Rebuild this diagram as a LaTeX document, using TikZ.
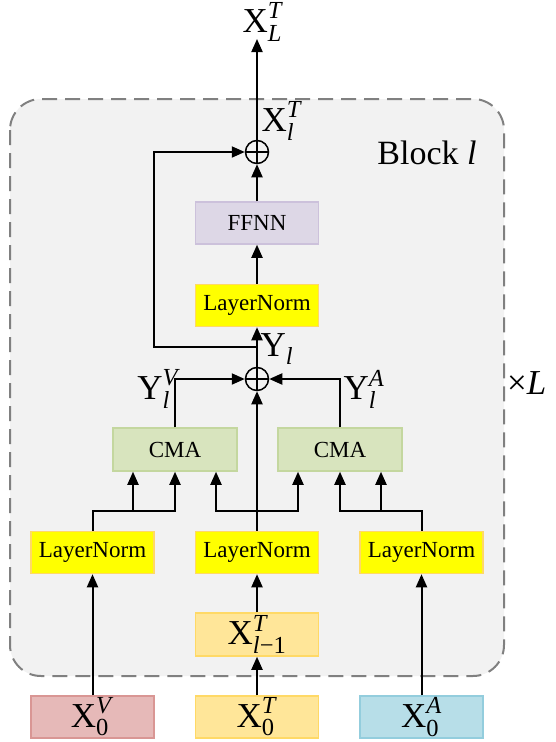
\documentclass[tikz,border=0pt]{standalone}
\usepackage{fix-cm}
\usepackage{amsmath}
\usepackage{fontspec}
\setmainfont{Liberation Serif}
\usetikzlibrary{arrows.meta}
\definecolor{blockfill}{HTML}{F2F2F2}
\definecolor{blockedge}{HTML}{808080}
\definecolor{lnfill}{HTML}{FFFF00}
\definecolor{lnedge}{HTML}{FFD966}
\definecolor{cmafill}{HTML}{D8E4BE}
\definecolor{cmaedge}{HTML}{C4D79F}
\definecolor{ffnfill}{HTML}{DDD7E6}
\definecolor{ffnedge}{HTML}{CCC1DB}
\definecolor{vidfill}{HTML}{E6B9B8}
\definecolor{videdge}{HTML}{D99694}
\definecolor{txtfill}{HTML}{FFE699}
\definecolor{txtedge}{HTML}{FFD966}
\definecolor{audfill}{HTML}{B7DEE8}
\definecolor{audedge}{HTML}{93CDDD}
\newcommand{\tsym}[3]{$\text{#1}^{\text{#2}}_{\text{#3}}$}
\tikzset{
  box/.style={draw, line width=1.5pt, minimum width=123pt, minimum height=42pt,
    inner sep=0pt, font=\fontsize{23}{23}\selectfont},
  lnbox/.style={box, fill=lnfill, draw=lnedge},
  cmabox/.style={box, fill=cmafill, draw=cmaedge, minimum width=124pt, minimum height=43pt},
  ffnbox/.style={box, fill=ffnfill, draw=ffnedge},
  inbox/.style={box, font=\fontsize{35}{35}\selectfont},
  sumnode/.style={circle, draw, line width=1.5pt, minimum size=23pt, inner sep=0pt,
    path picture={\draw[line width=1.5pt]
      (path picture bounding box.north) -- (path picture bounding box.south)
      (path picture bounding box.west) -- (path picture bounding box.east);}},
  flow/.style={-{Triangle[length=13pt,width=11pt]}, line width=2pt},
  wire/.style={line width=2pt},
  lbl/.style={inner sep=0pt, font=\fontsize{35}{35}\selectfont}
}
\begin{document}
\begin{tikzpicture}[x=1pt, y=-1pt]
  \useasboundingbox (0,0) rectangle (556,742);
  % Block frame
  \draw[blockedge, fill=blockfill, line width=2pt, rounded corners=31pt,
    dash pattern=on 15pt off 8pt] (10,99) rectangle (504,676);
  \node[font=\fontsize{34}{34}\selectfont] (blk) at (427,153) {Block \textit{l}};
  \node[font=\fontsize{35}{35}\selectfont, anchor=west, inner sep=0pt] (rep) at (507,383) {×\textit{L}};
  % Inputs
  \node[inbox, fill=vidfill, draw=videdge] (xv) at (92.5,717) {\tsym{X}{\textit{V}}{0}};
  \node[inbox, fill=txtfill, draw=txtedge] (xt) at (257,717) {\tsym{X}{\textit{T}}{0}};
  \node[inbox, fill=audfill, draw=audedge] (xa) at (421.5,717) {\tsym{X}{\textit{A}}{0}};
  \node[inbox, fill=txtfill, draw=txtedge, minimum height=43pt] (xprev) at (257,634.5)
    {\tsym{X}{\textit{T}}{\textit{l}−1}};
  % Norm layers
  \node[lnbox] (lnv) at (92.5,552.5) {LayerNorm};
  \node[lnbox] (lnt) at (257,552.5) {LayerNorm};
  \node[lnbox] (lna) at (421.5,552.5) {LayerNorm};
  % Cross-modal attention
  \node[cmabox] (cmav) at (175,449.5) {CMA};
  \node[cmabox] (cmaa) at (340,449.5) {CMA};
  % Upper path
  \node[sumnode] (sum1) at (257,379) {};
  \node[lnbox] (lntop) at (257,305.5) {LayerNorm};
  \node[ffnbox] (ffn) at (257,223) {FFNN};
  \node[sumnode] (sum2) at (257,152) {};
  \node[lbl] (xout) at (263,22) {\tsym{X}{\textit{T}}{\textit{L}}};
  % Labels
  \node[lbl] (yl) at (277,349) {\tsym{Y}{}{\textit{l}}};
  \node[lbl] (ylv) at (159,389) {\tsym{Y}{\textit{V}}{\textit{l}}};
  \node[lbl] (yla) at (364,389) {\tsym{Y}{\textit{A}}{\textit{l}}};
  \node[lbl] (xl) at (282,121) {\tsym{X}{\textit{T}}{\textit{l}}};
  % Branch points
  \coordinate (jv) at (92.5,511);
  \coordinate (jt) at (257,511);
  \coordinate (ja) at (421.5,511);
  \coordinate (skp) at (257,347);
  % Connectors
  \draw[flow] (xv) -- (lnv);
  \draw[flow] (xt) -- (xprev);
  \draw[flow] (xprev) -- (lnt);
  \draw[flow] (xa) -- (lna);
  \draw[flow] (lnv) -- (jv) -| (cmav.south);
  \draw[flow] ([xshift=-42pt]jv -| cmav.south) -- ([xshift=-42pt]cmav.south);
  \draw[wire] (jt -| 216,0) -- (jt -| 298,0);
  \draw[flow] (jt) -| ([xshift=41pt]cmav.south);
  \draw[flow] (jt) -| ([xshift=-42pt]cmaa.south);
  \draw[flow] (lna) -- (ja) -| (cmaa.south);
  \draw[flow] ([xshift=41pt]ja -| cmaa.south) -- ([xshift=41pt]cmaa.south);
  \draw[flow] (lnt) -- (sum1);
  \draw[flow] (cmav) |- (sum1);
  \draw[flow] (cmaa) |- (sum1);
  \draw[flow] (sum1) -- (lntop);
  \draw[flow] (skp) -- (skp -| 154,0) |- (sum2);
  \draw[flow] (lntop) -- (ffn);
  \draw[flow] (ffn) -- (sum2);
  \draw[flow] (sum2) -- (sum2 |- 0,39);
\end{tikzpicture}
\end{document}
